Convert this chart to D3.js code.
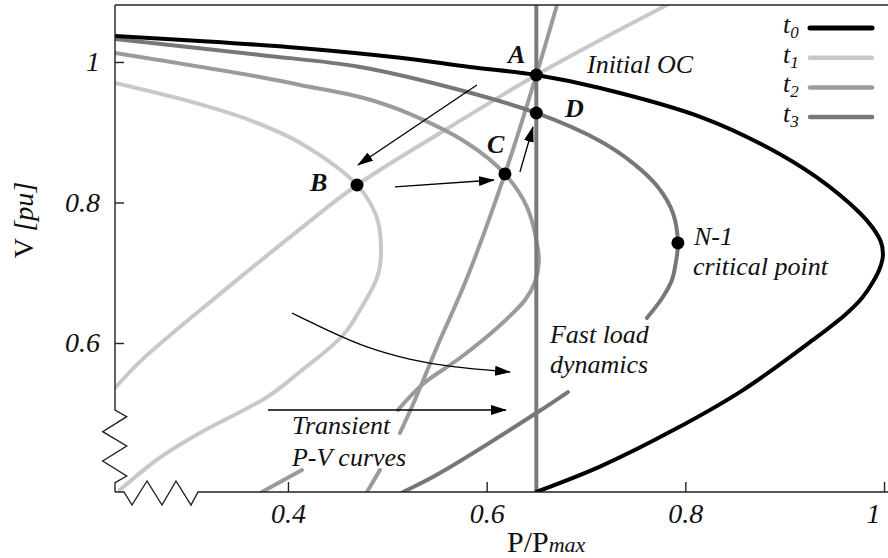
<!DOCTYPE html>
<html><head><meta charset="utf-8">
<script src="https://cdn.jsdelivr.net/npm/d3@7"></script>
<style>
html,body{margin:0;padding:0;background:#fff;}
svg{display:block;}
text{font-family:"Liberation Serif","Times New Roman",serif;fill:#111;}
</style></head><body>
<svg id="chart" width="888" height="558"></svg>
<script>
// ---------- data (P/Pmax, V[pu]) ----------
const xTicks = [0.4, 0.6, 0.8, 1];
const xTickLabels = ["0.4", "0.6", "0.8", "1"];
const yTicks = [0.6, 0.8, 1];
const yTickLabels = ["0.6", "0.8", "1"];
const seriesNames = ["0", "1", "2", "3"];

// t0: initial P-V curve
const t0Curve = [[0.226,1.037],[0.311,1.030],[0.412,1.020],[0.513,1.006],[0.583,0.993],[0.65,0.9815],[0.714,0.963],[0.815,0.922],[0.882,0.879],[0.932,0.836],[0.9757,0.7851],[0.9888,0.7637],[0.9969,0.7438],[0.9989,0.7253],[0.9959,0.7068],[0.9888,0.6868],[0.9778,0.6641],[0.9606,0.6399],[0.9284,0.6043],[0.858,0.533],[0.788,0.476],[0.714,0.424],[0.65,0.388]];
// t1: transient P-V curve and load characteristic
const t1Curve = [[0.226,0.970],[0.311,0.940],[0.362,0.917],[0.412,0.885],[0.4695,0.8249],[0.4886,0.782],[0.4936,0.740],[0.4906,0.697],[0.4725,0.647],[0.4554,0.611],[0.4121,0.559],[0.3789,0.523],[0.3114,0.472],[0.2712,0.437],[0.2309,0.391]];
const t1Load = [[0.2259,0.536],[0.253,0.576],[0.3326,0.671],[0.4121,0.762],[0.4695,0.8249],[0.5631,0.9075],[0.65,0.9815],[0.714,1.031],[0.7815,1.081]];
// t2: P-V curve and load characteristic
const t2Curve = [[0.2259,1.0128],[0.3718,0.9786],[0.4121,0.9673],[0.4725,0.9502],[0.5127,0.9317],[0.5802,0.8847],[0.6184,0.8406],[0.6406,0.7936],[0.6506,0.7424],[0.6526,0.7153],[0.6486,0.6868],[0.6386,0.6612],[0.6104,0.6214],[0.5731,0.5786],[0.5359,0.5416],[0.5107,0.5046]];
const t2CurveTail = [[0.4141,0.4192],[0.3738,0.3879]];
const t2Load = [[0.6708,1.0811],[0.65,0.9815],[0.6184,0.8406],[0.5802,0.6925],[0.5500,0.5943],[0.5278,0.5189],[0.5127,0.4719]];
const t2LoadTail = [[0.4926,0.4192],[0.4795,0.3879]];
// t3: post-contingency P-V curve
const t3Curve = [[0.2259,1.0327],[0.3718,1.0100],[0.4725,0.9929],[0.5731,0.9601],[0.65,0.9274],[0.7140,0.8875],[0.7473,0.856],[0.7724,0.8221],[0.7875,0.7851],[0.7925,0.7424],[0.7905,0.7153],[0.7865,0.6897],[0.7774,0.6655],[0.7613,0.6356]];
const t3CurveTail = [[0.6818,0.5302],[0.6516,0.5018],[0.5530,0.4150],[0.5158,0.3879]];
const loadP = 0.65;

// operating points
const pointNames = ["A", "B", "C", "D"];
const pointPV = [[0.65,0.9815],[0.4695,0.8249],[0.6184,0.8406],[0.65,0.9274]];
const pointLabelPV = [[0.6214,0.9986],[0.4221,0.8164],[0.6003,0.8705],[0.6788,0.9217]];
const criticalPoint = [0.7925, 0.7424];

// arrows
const straightArrows = [
  [[0.5902,0.9673],[0.4705,0.8534]],
  [[0.5077,0.8221],[0.6073,0.8320]],
  [[0.6335,0.8434],[0.6466,0.9075]],
  [[0.3799,0.5046],[0.6194,0.5046]]
];
const curvedArrow = [[0.4040,0.6427],[0.4453,0.6142],[0.4795,0.5929],[0.5228,0.5758],[0.5631,0.5658],[0.6235,0.5587]];

// annotations
const noteTexts = ["Initial OC", "N-1", "critical point", "Fast load", "dynamics", "Transient", "P-V curves"];
const notePV = [[0.7010,0.9843],[0.8087,0.7395],[0.8076,0.6968],[0.6637,0.6000],[0.6637,0.5573],[0.4040,0.4705],[0.4040,0.4249]];

// ---------- drawing ----------
const W = 888, H = 558;
const L = 115, R = 888, T = 5, B = 492;
const colors = ["#000000", "#c8c8c8", "#9b9b9b", "#777777"];

const svg = d3.select("#chart");
svg.append("rect").attr("width", W).attr("height", H).attr("fill", "#fff");

const x = d3.scaleLinear().domain([0.2259, 1.004]).range([L, R]);
const y = d3.scaleLinear().domain([0.3879, 1.0811]).range([B, T]);

const defs = svg.append("defs");
defs.append("clipPath").attr("id", "plot").append("rect")
  .attr("x", L).attr("y", T).attr("width", R - L).attr("height", B - T);
defs.append("marker").attr("id", "arr").attr("viewBox", "0 -5 16 10")
  .attr("refX", 15).attr("refY", 0).attr("markerWidth", 16).attr("markerHeight", 10)
  .attr("markerUnits", "userSpaceOnUse").attr("orient", "auto")
  .append("path").attr("d", "M0,-5L16,0L0,5Z").attr("fill", "#000");

const line = d3.line().x(d => x(d[0])).y(d => y(d[1])).curve(d3.curveCatmullRom.alpha(0.5));

const g = svg.append("g").attr("clip-path", "url(#plot)");

function drawCurve(data, color, w) {
  g.append("path").attr("d", line(data)).attr("fill", "none")
    .attr("stroke", color).attr("stroke-width", w).attr("stroke-linecap", "round");
}

drawCurve(t1Curve, colors[1], 4);
drawCurve(t1Load, colors[1], 4);
drawCurve(t2Curve, colors[2], 4);
drawCurve(t2CurveTail, colors[2], 4);
drawCurve(t2Load, colors[2], 4);
drawCurve(t2LoadTail, colors[2], 4);
drawCurve(t3Curve, colors[3], 4);
drawCurve(t3CurveTail, colors[3], 4);
// vertical load line
g.append("line").attr("x1", x(loadP)).attr("x2", x(loadP)).attr("y1", y.range()[1]).attr("y2", y.range()[0])
  .attr("stroke", "#7a7a7a").attr("stroke-width", 4);
drawCurve(t0Curve, colors[0], 4);

// arrows
straightArrows.forEach(a => {
  svg.append("line").attr("x1", x(a[0][0])).attr("y1", y(a[0][1]))
    .attr("x2", x(a[1][0])).attr("y2", y(a[1][1]))
    .attr("stroke", "#000").attr("stroke-width", 1.3).attr("marker-end", "url(#arr)");
});
svg.append("path").attr("d", d3.line().x(d => x(d[0])).y(d => y(d[1])).curve(d3.curveBasis)(curvedArrow))
  .attr("fill", "none").attr("stroke", "#000").attr("stroke-width", 1.3).attr("marker-end", "url(#arr)");

// points
svg.selectAll("circle.pt").data(pointPV.concat([criticalPoint])).enter().append("circle")
  .attr("cx", d => x(d[0])).attr("cy", d => y(d[1])).attr("r", 6.5).attr("fill", "#000");

svg.selectAll("text.pl").data(pointNames).enter().append("text")
  .attr("x", (d, i) => x(pointLabelPV[i][0])).attr("y", (d, i) => y(pointLabelPV[i][1]))
  .attr("font-size", 26).attr("font-style", "italic").attr("font-weight", "bold").text(d => d);

svg.selectAll("text.note").data(noteTexts).enter().append("text")
  .attr("x", (d, i) => x(notePV[i][0])).attr("y", (d, i) => y(notePV[i][1]))
  .attr("font-size", 26).attr("font-style", "italic").text(d => d);

// axes
const yAxis = d3.axisLeft(y).tickValues(yTicks).tickFormat((d, i) => yTickLabels[i])
  .tickSizeInner(-9).tickSizeOuter(0).tickPadding(15);
const xAxis = d3.axisBottom(x).tickValues(xTicks).tickFormat((d, i) => xTickLabels[i])
  .tickSizeInner(-10).tickSizeOuter(0).tickPadding(11);

const ya = svg.append("g").attr("transform", `translate(${L},0)`).call(yAxis);
const xa = svg.append("g").attr("transform", `translate(0,${B})`).call(xAxis);
[ya, xa].forEach(a => {
  a.select(".domain").remove();
  a.selectAll(".tick line").attr("stroke", "#222").attr("stroke-width", 1.4);
  a.selectAll(".tick text").attr("font-family", "Liberation Serif, serif").attr("font-size", 28)
    .attr("font-style", "italic").attr("fill", "#111");
});
xa.selectAll(".tick text").filter((d, i) => i === xTicks.length - 1).attr("dx", -11);

// axis lines with break marks
const leftAxisPts = [[L,T],[L,410],[L+11.7,416.7],[L-12.3,431.7],[L+11.7,446],[L-12.3,461],[L+11.7,476],[L,482.7],[L,B]];
const bottomAxisPts = [[L,B],[124,B],[132,505],[147,481],[162,505],[176,481],[191,505],[198,B],[R,B]];
const poly = d3.line();
svg.append("path").attr("d", poly(leftAxisPts)).attr("fill", "none").attr("stroke", "#222").attr("stroke-width", 1.4);
svg.append("path").attr("d", poly(bottomAxisPts)).attr("fill", "none").attr("stroke", "#222").attr("stroke-width", 1.4);
svg.append("line").attr("x1", L).attr("x2", R).attr("y1", T).attr("y2", T).attr("stroke", "#222").attr("stroke-width", 1.4);

// axis titles
const yt = svg.append("text").attr("transform", "translate(33,220) rotate(-90)")
  .attr("text-anchor", "middle").attr("font-size", 28);
yt.append("tspan").text("V ");
yt.append("tspan").attr("font-style", "italic").text("[pu]");

const xt = svg.append("text").attr("x", 507).attr("y", 552).attr("font-size", 30);
xt.append("tspan").text("P/P");
xt.append("tspan").attr("font-style", "italic").attr("font-size", 22).text("max");

// legend
const lg = svg.append("g");
seriesNames.forEach((s, i) => {
  const yy = 28 + i * 29.7;
  const t = lg.append("text").attr("x", 783).attr("y", yy + 5).attr("font-size", 26).attr("font-style", "italic");
  t.append("tspan").text("t");
  t.append("tspan").attr("font-size", 17).attr("dy", 5).text(s);
  lg.append("line").attr("x1", 810).attr("x2", 872).attr("y1", yy).attr("y2", yy)
    .attr("stroke", colors[i]).attr("stroke-width", i === 0 ? 5 : 4.5).attr("stroke-linecap", "round");
});
</script>
</body></html>
